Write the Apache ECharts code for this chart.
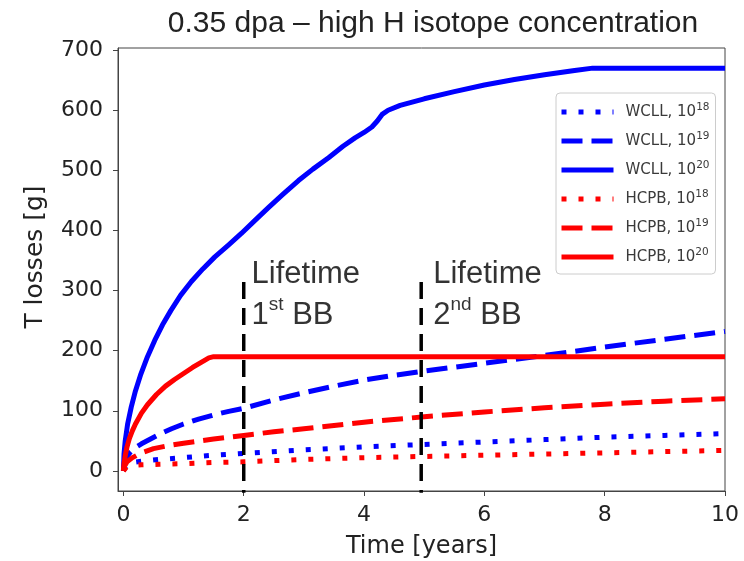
<!DOCTYPE html>
<html>
<head>
<meta charset="utf-8">
<script src="https://cdn.jsdelivr.net/npm/echarts@6/dist/echarts.min.js"></script>
<style>
  html, body { margin: 0; padding: 0; background: #fff; }
  #chart { width: 744px; height: 561px; }
</style>
</head>
<body>
<div id="chart"></div>
<script>
// Tritium losses [g] versus operating time [years]
const xTicks = [0, 2, 4, 6, 8, 10];
const yTicks = [0, 100, 200, 300, 400, 500, 600, 700];

const wcll18 = [[0,0],[0.05,10],[0.15,14],[0.3,16],[0.6,19],[1,22],[1.5,26],[2,29],[3,35],[4,40],[5,44],[6,48],[7,52],[8,56],[9,59],[10,62]];
const wcll19 = [[0,0],[0.02,12],[0.06,24],[0.12,32],[0.2,39],[0.3,45],[0.45,53],[0.6,61],[0.8,70],[1,78],[1.25,86],[1.5,93],[1.75,99],[2,104],[2.5,118],[3,130],[3.5,141],[4,151],[4.5,159],[5,166],[6,179],[7,192],[8,206],[9,219],[10,232]];
const wcll20 = [[0,0],[0.01,28],[0.03,50],[0.07,78],[0.13,106],[0.2,133],[0.29,161],[0.4,190],[0.52,217],[0.65,243],[0.79,267],[0.95,292],[1.13,315],[1.32,336],[1.52,356],[1.75,376],[1.96,395],[2.2,418],[2.41,438],[2.65,460],[2.91,483],[3.15,502],[3.41,521],[3.65,540],[3.85,554],[4.0,563],[4.13,572],[4.22,582],[4.3,593],[4.4,600],[4.6,608],[5.0,619],[5.5,631],[6.0,642],[6.5,651],[7.0,659],[7.5,666],[7.8,670],[10,670]];
const hcpb18 = [[0,0],[0.05,6],[0.15,9],[0.3,10],[0.6,11],[1,12],[1.5,14],[2,15],[3,19],[4,22],[5,24],[6,26],[7,28],[8,30],[9,32],[10,34]];
const hcpb19 = [[0,0],[0.02,8],[0.06,15],[0.15,22],[0.3,30],[0.5,37],[0.75,42],[1,46],[1.5,53],[2,59],[2.5,65],[3,70],[4,81],[5,90],[6,98],[7,105],[8,111],[9,116],[10,120]];
const hcpb20 = [[0,0],[0.01,12],[0.03,25],[0.06,40],[0.1,54],[0.15,67],[0.2,78],[0.3,96],[0.4,110],[0.55,127],[0.7,141],[0.85,152],[1.0,162],[1.15,172],[1.3,181],[1.42,188],[1.5,190],[1.6,190],[10,190]];

// Blanket lifetimes (vertical markers) and their captions
const lifetimes = [2, 4.95];
const lifetimeTop = 320;
const lifetimeBottom = -60;
const captions = [
  { at: [2.13, 361], ord: '1', sup: 'st' },
  { at: [5.15, 361], ord: '2', sup: 'nd' }
];

const BLUE = '#0000ff', RED = '#ff0000';
const DOT = [5, 12], DASH = [21, 9];

const curves = [
  { name: 'WCLL, 10^18', data: wcll18, color: BLUE, type: DOT },
  { name: 'WCLL, 10^19', data: wcll19, color: BLUE, type: DASH },
  { name: 'WCLL, 10^20', data: wcll20, color: BLUE, type: 'solid' },
  { name: 'HCPB, 10^18', data: hcpb18, color: RED, type: DOT },
  { name: 'HCPB, 10^19', data: hcpb19, color: RED, type: DASH },
  { name: 'HCPB, 10^20', data: hcpb20, color: RED, type: 'solid' }
];

const MPL = 'DejaVu Sans';
const SANS = 'Liberation Sans, Arial, sans-serif';

const series = curves.map((c, i) => ({
  name: c.name,
  type: 'line',
  data: c.data,
  symbol: 'none',
  showSymbol: false,
  smooth: false,
  z: 2 + i,
  color: c.color,
  itemStyle: { color: c.color, opacity: 0 },
  lineStyle: { color: c.color, width: 5, type: c.type, cap: 'butt', join: 'round', opacity: 1 },
  emphasis: { disabled: true }
}));

lifetimes.forEach((t, i) => {
  series.push({
    name: 'lifetime' + i,
    type: 'line',
    data: [[t, lifetimeBottom], [t, lifetimeTop]],
    symbol: 'none',
    z: 10,
    lineStyle: { color: '#000', width: 3.5, type: [17, 9], cap: 'butt' },
    emphasis: { disabled: true },
    silent: true
  });
});

series.push({
  name: 'captions',
  type: 'scatter',
  symbolSize: 0,
  z: 11,
  silent: true,
  data: captions.map(c => ({
    value: c.at,
    label: {
      show: true,
      position: [0, 0],
      align: 'left',
      verticalAlign: 'top',
      formatter: '{a|Lifetime}\n{a|' + c.ord + '}{s|' + c.sup + '}{a| BB}',
      rich: {
        a: { fontFamily: SANS, fontSize: 31, lineHeight: 41, color: '#000' },
        s: { fontFamily: SANS, fontSize: 19, lineHeight: 25, color: '#000', verticalAlign: 'top' }
      }
    }
  }))
});

const chart = echarts.init(document.getElementById('chart'), null, { renderer: 'canvas' });
chart.setOption({
  animation: false,
  backgroundColor: '#fff',
  title: {
    text: '0.35 dpa \u2013 high H isotope concentration',
    left: 428,
    top: 4,
    textAlign: 'center',
    textStyle: { fontFamily: SANS, fontSize: 30, fontWeight: 'normal', color: '#222' }
  },
  grid: {
    left: 118, right: 19, top: 48, bottom: 70,
    outerBoundsMode: 'none',
    containLabel: false,
    show: true, borderColor: '#444', borderWidth: 1, backgroundColor: 'transparent'
  },
  legend: {
    data: curves.map(c => c.name),
    orient: 'vertical',
    left: 556,
    top: 93,
    width: 162,
    padding: [9, 6, 9, 3],
    itemWidth: 52,
    itemHeight: 20,
    itemGap: 11,
    borderColor: '#cccccc',
    borderWidth: 1,
    borderRadius: 4,
    backgroundColor: 'rgba(255,255,255,0.8)',
    selectedMode: false,
    itemStyle: { opacity: 0, borderWidth: 0 },
    lineStyle: { width: 5, opacity: 1 },
    formatter: name => {
      const parts = name.split('^');
      return '{b|' + parts[0] + '}{s|' + parts[1] + '}';
    },
    textStyle: {
      padding: [0, 0, 0, 7],
      rich: {
        b: { fontFamily: MPL, fontSize: 15, lineHeight: 20, color: '#3a3a3a' },
        s: { fontFamily: MPL, fontSize: 10.5, lineHeight: 12, color: '#3a3a3a', verticalAlign: 'top' }
      }
    }
  },
  graphic: [{
    type: 'text',
    x: 35,
    y: 257,
    rotation: Math.PI / 2,
    style: {
      text: 'T losses [g]',
      fontFamily: MPL,
      fontSize: 25,
      fill: '#222',
      align: 'center',
      verticalAlign: 'middle'
    }
  }],
  xAxis: {
    type: 'value',
    min: -0.09,
    max: 10,
    name: 'Time [years]',
    nameLocation: 'middle',
    nameGap: 44,
    nameTextStyle: { fontFamily: MPL, fontSize: 24, color: '#222' },
    axisLine: { show: true, onZero: false, lineStyle: { color: '#444', width: 1 } },
    axisTick: { show: true, inside: false, length: 5, customValues: xTicks, lineStyle: { color: '#444' } },
    axisLabel: { customValues: xTicks, margin: 13, fontFamily: MPL, fontSize: 22, color: '#222' },
    splitLine: { show: false }
  },
  yAxis: {
    type: 'value',
    min: -33.5,
    max: 703.5,
    axisLine: { show: true, onZero: false, lineStyle: { color: '#444', width: 1 } },
    axisTick: { show: true, inside: false, length: 5, customValues: yTicks, lineStyle: { color: '#444' } },
    axisLabel: { customValues: yTicks, margin: 15, fontFamily: MPL, fontSize: 22, color: '#222' },
    splitLine: { show: false }
  },
  series: series
});
</script>
</body>
</html>
